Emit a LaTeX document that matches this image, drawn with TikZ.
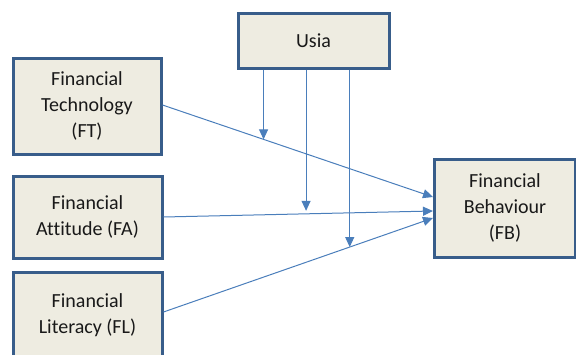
\documentclass[tikz,border=0pt]{standalone}
\usepackage{fontspec}
\setmainfont{Carlito}[Ligatures=NoCommon]
\usetikzlibrary{arrows.meta,calc}
\definecolor{boxborder}{RGB}{56,93,138}
\definecolor{boxfill}{RGB}{238,236,225}
\definecolor{arrowblue}{RGB}{74,126,187}
\begin{document}
\begin{tikzpicture}[x=1pt,y=-1pt,
  box/.style={draw=boxborder, fill=boxfill, line width=3pt, rectangle, align=center,
    inner sep=0pt, font=\fontsize{20}{26}\selectfont, text=black!90},
  link/.style={draw=arrowblue, line width=1pt, -{Triangle[length=10pt,width=9pt]}}]
\useasboundingbox (0,0) rectangle (576,354);
\begin{scope}
\clip (0,0) rectangle (576,354);
\node[box, minimum width=148pt, minimum height=96pt] (FT) at (87,106) {Financial\\Technology\\(FT)};
\node[box, minimum width=149pt, minimum height=82pt] (FA) at (87.5,217) {Financial\\Attitude (FA)};
\node[box, minimum width=149pt, minimum height=86pt] (FL) at (87.5,315) {Financial\\Literacy (FL)};
\node[box, minimum width=151pt, minimum height=55pt] (U) at (313.5,40.5) {Usia};
\node[box, minimum width=141pt, minimum height=98pt] (FB) at (505,208) {Financial\\Behaviour\\(FB)};

\coordinate (t1) at ([yshift=11pt]FB.west);
\coordinate (t2) at ([yshift=-3pt]FB.west);
\coordinate (t3) at ([yshift=-10pt]FB.west);
\coordinate (s1) at ([yshift=1pt]FT.east);
\coordinate (s2) at (FA.east);
\coordinate (s3) at ([yshift=3pt]FL.east);

\draw[link] (s1) -- (t1);
\draw[link] (s2) -- (t2);
\draw[link] (s3) -- (t3);

\coordinate (m1) at ($(s1)!0.3736!(t1)$);
\coordinate (m2) at ($(s2)!0.529!(t2)$);
\coordinate (m3) at ($(s3)!0.691!(t3)$);
\draw[link] (U.south -| m1) -- (m1);
\draw[link, shorten >=3pt] (U.south -| m2) -- (m2);
\draw[link] (U.south -| m3) -- (m3);
\end{scope}
\end{tikzpicture}
\end{document}
